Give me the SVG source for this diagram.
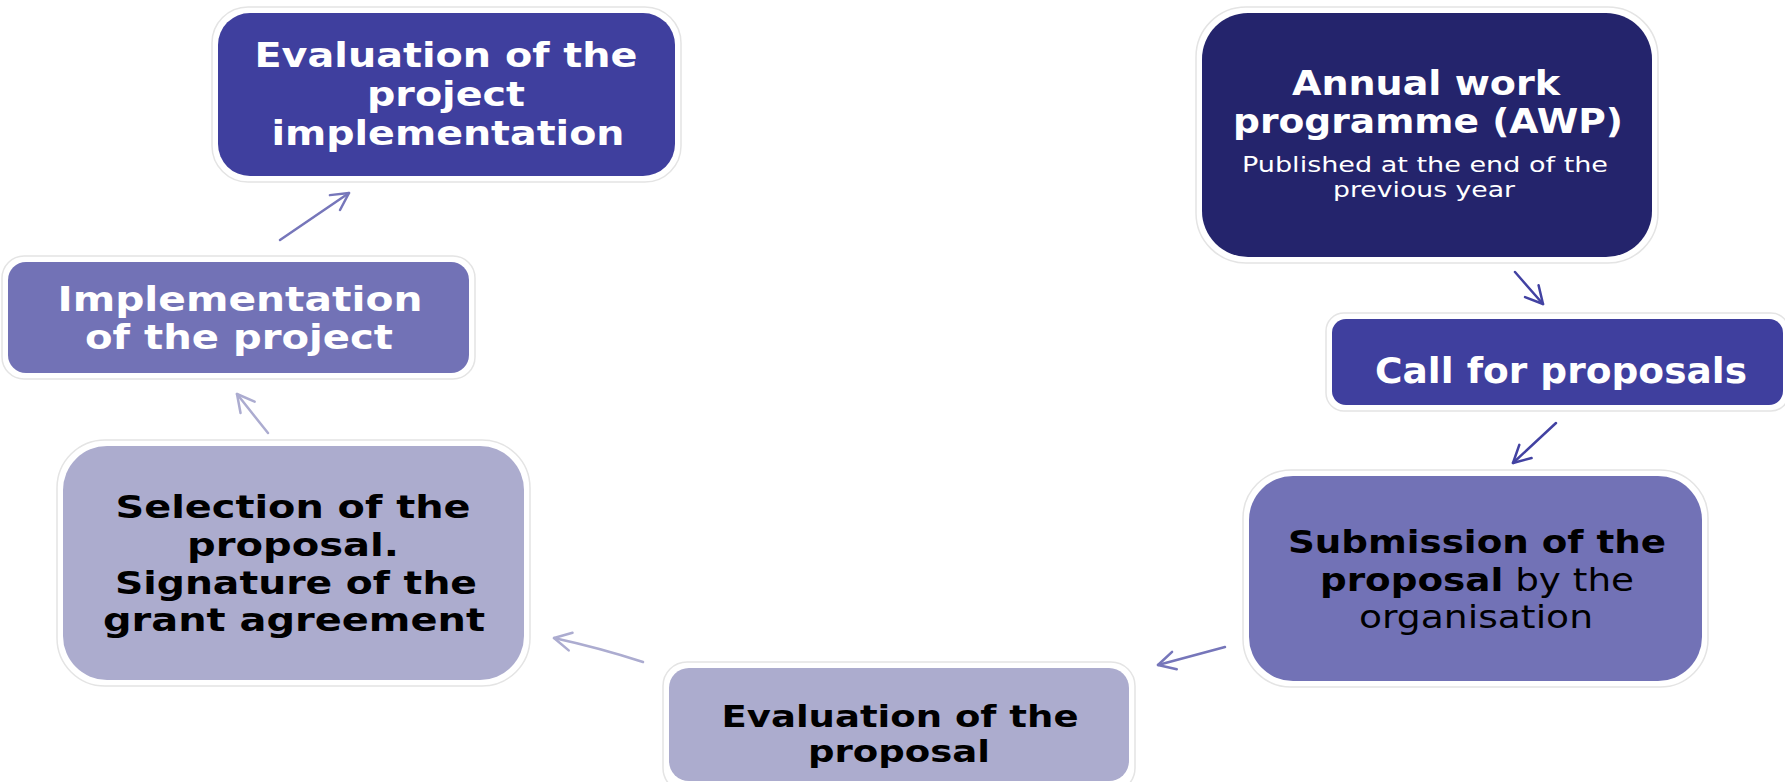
<svg xmlns="http://www.w3.org/2000/svg" width="1785" height="782" viewBox="0 0 1785 782">
<style>
.frame{fill:#ffffff;stroke:#e4e4e4;stroke-width:1.5}
.t{font-family:"DejaVu Sans",Verdana,sans-serif;text-anchor:middle}
.b{font-weight:bold}
.w{fill:#ffffff}
.k{fill:#000000}
.c{fill:none;stroke-width:2.5;stroke-linecap:round}
</style>
<defs>
<marker id="mDark" markerUnits="userSpaceOnUse" markerWidth="30" markerHeight="30" viewBox="-22 -15 30 30" refX="0" refY="0" orient="auto"><path d="M-17,-9 L0,0 L-17,9" fill="none" stroke="#4242a2" stroke-width="2.5" stroke-linecap="round" stroke-linejoin="round"/></marker>
<marker id="mMid" markerUnits="userSpaceOnUse" markerWidth="30" markerHeight="30" viewBox="-22 -15 30 30" refX="0" refY="0" orient="auto"><path d="M-17,-9 L0,0 L-17,9" fill="none" stroke="#7676ba" stroke-width="2.5" stroke-linecap="round" stroke-linejoin="round"/></marker>
<marker id="mLight" markerUnits="userSpaceOnUse" markerWidth="30" markerHeight="30" viewBox="-22 -15 30 30" refX="0" refY="0" orient="auto"><path d="M-17,-9 L0,0 L-17,9" fill="none" stroke="#acacd0" stroke-width="2.5" stroke-linecap="round" stroke-linejoin="round"/></marker>
</defs>
<rect width="1785" height="782" fill="#ffffff"/>

<g id="node-eval-project">
<rect class="frame" x="212" y="7" width="469" height="175" rx="36"/>
<rect x="218" y="13" width="457" height="163" rx="32" fill="#3f3f9e"/>
<text class="t b w" font-size="33" x="446" y="67" textLength="383" lengthAdjust="spacingAndGlyphs">Evaluation of the</text>
<text class="t b w" font-size="33" x="446" y="106" textLength="158" lengthAdjust="spacingAndGlyphs">project</text>
<text class="t b w" font-size="33" x="448" y="145" textLength="353" lengthAdjust="spacingAndGlyphs">implementation</text>
</g>

<g id="node-awp">
<rect class="frame" x="1196" y="7" width="462" height="256" rx="50"/>
<rect x="1202" y="13" width="450" height="244" rx="46" fill="#24246c"/>
<text class="t b w" font-size="33" x="1426" y="95" textLength="268" lengthAdjust="spacingAndGlyphs">Annual work</text>
<text class="t b w" font-size="33" x="1428" y="133" textLength="390" lengthAdjust="spacingAndGlyphs">programme (AWP)</text>
<text class="t w" font-size="21" x="1425" y="172" textLength="366" lengthAdjust="spacingAndGlyphs">Published at the end of the</text>
<text class="t w" font-size="21" x="1424" y="197" textLength="182" lengthAdjust="spacingAndGlyphs">previous year</text>
</g>

<g id="node-call">
<rect class="frame" x="1326" y="313" width="463" height="98" rx="18"/>
<rect x="1332" y="319" width="451" height="86" rx="14" fill="#3f3f9e"/>
<text class="t b w" font-size="36" x="1561" y="383" textLength="372" lengthAdjust="spacingAndGlyphs">Call for proposals</text>
</g>

<g id="node-submission">
<rect class="frame" x="1243" y="470" width="465" height="217" rx="48"/>
<rect x="1249" y="476" width="453" height="205" rx="44" fill="#7272b6"/>
<text class="t b k" font-size="32" x="1477" y="553" textLength="378" lengthAdjust="spacingAndGlyphs">Submission of the</text>
<text class="t k" font-size="32" x="1477" y="591" textLength="314" lengthAdjust="spacingAndGlyphs"><tspan class="b">proposal</tspan> by the</text>
<text class="t k" font-size="32" x="1476" y="628" textLength="234" lengthAdjust="spacingAndGlyphs">organisation</text>
</g>

<g id="node-eval-proposal">
<rect class="frame" x="663" y="662" width="472" height="130" rx="24"/>
<rect x="669" y="668" width="460" height="113" rx="20" fill="#acacce"/>
<text class="t b k" font-size="30" x="900" y="727" textLength="357" lengthAdjust="spacingAndGlyphs">Evaluation of the</text>
<text class="t b k" font-size="30" x="899" y="762" textLength="182" lengthAdjust="spacingAndGlyphs">proposal</text>
</g>

<g id="node-selection">
<rect class="frame" x="57" y="440" width="473" height="246" rx="48"/>
<rect x="63" y="446" width="461" height="234" rx="44" fill="#acacce"/>
<text class="t b k" font-size="32" x="293" y="518" textLength="355" lengthAdjust="spacingAndGlyphs">Selection of the</text>
<text class="t b k" font-size="32" x="293" y="556" textLength="212" lengthAdjust="spacingAndGlyphs">proposal.</text>
<text class="t b k" font-size="32" x="296" y="594" textLength="362" lengthAdjust="spacingAndGlyphs">Signature of the</text>
<text class="t b k" font-size="32" x="294" y="631" textLength="382" lengthAdjust="spacingAndGlyphs">grant agreement</text>
</g>

<g id="node-implementation">
<rect class="frame" x="2" y="256" width="473" height="123" rx="22"/>
<rect x="8" y="262" width="461" height="111" rx="18" fill="#7272b6"/>
<text class="t b w" font-size="33" x="240" y="311" textLength="365" lengthAdjust="spacingAndGlyphs">Implementation</text>
<text class="t b w" font-size="33" x="239" y="349" textLength="308" lengthAdjust="spacingAndGlyphs">of the project</text>
</g>

<g id="connectors">
<path class="c" d="M1515,272 L1543,304" stroke="#4242a2" marker-end="url(#mDark)"/>
<path class="c" d="M1556,423 L1513,463" stroke="#4242a2" marker-end="url(#mDark)"/>
<path class="c" d="M1225,647 L1158,665" stroke="#7676ba" marker-end="url(#mMid)"/>
<path class="c" d="M643,662 Q600,648 554,638" stroke="#acacd0" marker-end="url(#mLight)"/>
<path class="c" d="M268,433 L237,394" stroke="#acacd0" marker-end="url(#mLight)"/>
<path class="c" d="M280,240 L349,193" stroke="#7676ba" marker-end="url(#mMid)"/>
</g>
</svg>
